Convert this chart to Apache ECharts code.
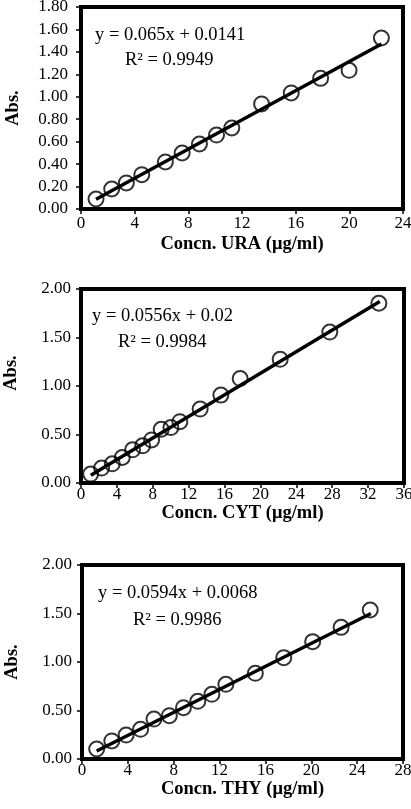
<!DOCTYPE html>
<html><head><meta charset="utf-8">
<script src="https://cdn.jsdelivr.net/npm/echarts@6/dist/echarts.min.js"></script>
<style>html,body{margin:0;padding:0;background:#fff}#c{width:411px;height:809px}</style>
</head><body><div id="c"></div>
<script>
// URA panel
const uraX = [1.12, 2.29, 3.38, 4.53, 6.29, 7.54, 8.83, 10.1, 11.24, 13.46, 15.67, 17.86, 19.98, 22.39];
const uraY = [0.089, 0.178, 0.232, 0.306, 0.419, 0.499, 0.579, 0.659, 0.722, 0.936, 1.034, 1.164, 1.236, 1.524];
const uraFitX = [1.12, 22.4];
const uraFitY = [0.087, 1.47];
// CYT panel
const cytX = [1.08, 2.30, 3.49, 4.60, 5.75, 6.87, 7.87, 8.94, 10.02, 11.02, 13.28, 15.59, 17.74, 22.2, 27.73, 33.2];
const cytY = [0.092, 0.154, 0.198, 0.263, 0.342, 0.383, 0.444, 0.554, 0.571, 0.632, 0.762, 0.906, 1.077, 1.275, 1.556, 1.853];
const cytFitX = [1.1, 33.3];
const cytFitY = [0.081, 1.87];
// THY panel
const thyX = [1.28, 2.60, 3.85, 5.11, 6.28, 7.62, 8.85, 10.10, 11.33, 12.55, 15.12, 17.6, 20.12, 22.6, 25.14];
const thyY = [0.103, 0.186, 0.247, 0.306, 0.412, 0.447, 0.529, 0.595, 0.667, 0.770, 0.883, 1.045, 1.21, 1.357, 1.536];
const thyFitX = [1.28, 25.2];
const thyFitY = [0.083, 1.50];

const xTitles = ['Concn. URA (\u03bcg/ml)', 'Concn. CYT (\u03bcg/ml)', 'Concn. THY (\u03bcg/ml)'];
const yTitle = 'Abs.';
const xMax = [24, 36, 28];
const yMax = [1.8, 2.0, 2.0];
const yStep = [0.2, 0.5, 0.5];
const xStep = [4, 4, 4];
const eqText = ['y = 0.065x + 0.0141', 'y = 0.0556x + 0.02', 'y = 0.0594x + 0.0068'];
const r2Text = ['R\u00b2 = 0.9949', 'R\u00b2 = 0.9984', 'R\u00b2 = 0.9986'];

const FONT = 'Liberation Serif';
const grids = [
  {left: 81, width: 322, top: 7, height: 202},
  {left: 81, width: 323, top: 289, height: 194},
  {left: 82, width: 321, top: 565, height: 194}
];
const xLabelMargin = [6, 3, 3];
const xNameGap = [26, 17, 17];
const yLabelMargin = [13, 10, 10];
const yNamePad = [0, 26, 0];
const yNameGap = [58, 60, 60];
const eqPos = [[95, 37, 125, 62], [92, 318, 118, 344], [98, 595, 133, 622]];

const pts = [[uraX, uraY], [cytX, cytY], [thyX, thyY]];
const fits = [[uraFitX, uraFitY], [cytFitX, cytFitY], [thyFitX, thyFitY]];
const zip = (a, b) => a.map((v, i) => [v, b[i]]);

const option = {
  backgroundColor: '#fff',
  animation: false,
  grid: grids.map(g => Object.assign({show: true, borderColor: '#000', borderWidth: 4, backgroundColor: 'transparent',
    containLabel: false, outerBoundsMode: 'none'}, g)),
  xAxis: grids.map((g, i) => ({
    gridIndex: i, type: 'value', min: 0, max: xMax[i], interval: xStep[i],
    name: xTitles[i], nameLocation: 'middle', nameGap: xNameGap[i],
    nameTextStyle: {fontFamily: FONT, fontSize: 18.5, fontWeight: 'bold', color: '#000'},
    axisLine: {show: true, lineStyle: {color: '#000', width: 4}},
    axisTick: {show: true, inside: false, length: 5, lineStyle: {color: '#000', width: 1.5}},
    axisLabel: {fontFamily: FONT, fontSize: 17, color: '#000', margin: xLabelMargin[i]},
    splitLine: {show: false}
  })),
  yAxis: grids.map((g, i) => ({
    gridIndex: i, type: 'value', min: 0, max: yMax[i], interval: yStep[i],
    name: yTitle, nameLocation: 'middle', nameGap: yNameGap[i],
    nameTextStyle: {fontFamily: FONT, fontSize: 18.5, fontWeight: 'bold', color: '#000', padding: [0, 0, 0, yNamePad[i]]},
    axisLine: {show: true, lineStyle: {color: '#000', width: 4}},
    axisTick: {show: true, inside: false, length: 5, lineStyle: {color: '#000', width: 1.5}},
    axisLabel: {fontFamily: FONT, fontSize: 17, color: '#000', margin: yLabelMargin[i], formatter: v => v.toFixed(2)},
    splitLine: {show: false}
  })),
  series: [],
  graphic: []
};
for (let i = 0; i < 3; i++) {
  option.series.push({
    type: 'scatter', xAxisIndex: i, yAxisIndex: i, data: zip(pts[i][0], pts[i][1]),
    symbol: 'circle', symbolSize: 15, z: 2,
    itemStyle: {color: 'rgba(0,0,0,0)', borderColor: '#000', borderWidth: 2}
  });
  option.series.push({
    type: 'line', xAxisIndex: i, yAxisIndex: i, data: zip(fits[i][0], fits[i][1]),
    symbol: 'none', z: 3, lineStyle: {color: '#000', width: 3.5}
  });
  const p = eqPos[i];
  option.graphic.push({
    type: 'text', left: p[0], top: p[1] - 11,
    style: {text: eqText[i], fontFamily: FONT, fontSize: 18.5, fill: '#000'}
  });
  option.graphic.push({
    type: 'text', left: p[2], top: p[3] - 11,
    style: {text: r2Text[i], fontFamily: FONT, fontSize: 18.5, fill: '#000'}
  });
}
const chart = echarts.init(document.getElementById('c'));
chart.setOption(option);
</script></body></html>
